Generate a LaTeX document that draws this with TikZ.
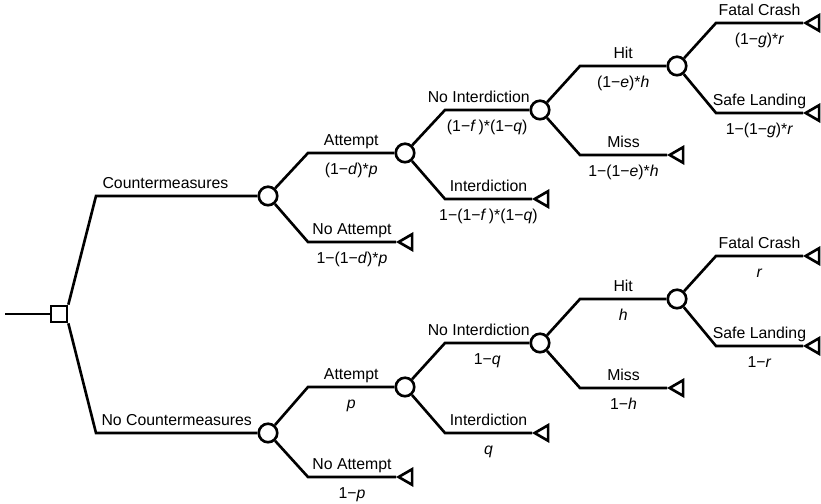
\documentclass[tikz,border=0pt]{standalone}
\usepackage{fontspec}
\setmainfont{Liberation Sans}
\usetikzlibrary{shapes.geometric}

\tikzset{
  decision/.style={shape=rectangle,draw=black,minimum size=0.32cm,inner sep=0pt},
  chance/.style={shape=circle,draw=black,minimum size=0.37cm,inner sep=0pt},
  payoff/.style={regular polygon,regular polygon sides=3,shape border rotate=90,draw=black,minimum size=0.36cm,inner sep=0pt,anchor=corner 1},
  branchlabel/.style={above=3.5pt,inner sep=0pt,text depth=0pt},
  problabel/.style={below=5pt,inner sep=0pt,text height=6.5pt,text depth=0pt},
}

\begin{document}
\begin{tikzpicture}[line width=1.5pt,font=\fontsize{9}{11}\selectfont]
\useasboundingbox (0,0) rectangle (16.42,10.08);
% decision node
\coordinate (in) at (0.10,3.80);
\node[decision] (D) at (1.18,3.80) {};
\coordinate (jc) at (1.92,6.16);
\coordinate (jnc) at (1.92,1.42);
\node[chance] (C1) at (5.36,6.16) {};
\node[chance] (C2) at (5.36,1.42) {};
% countermeasures
\coordinate (ja1) at (6.16,7.02);
\node[chance] (A1) at (8.10,7.02) {};
\coordinate (jn1) at (6.16,5.24);
\node[payoff] (t1) at (7.92,5.24) {};
\coordinate (jni1) at (8.90,7.88);
\node[chance] (NI1) at (10.80,7.88) {};
\coordinate (ji1) at (8.90,6.10);
\node[payoff] (t2) at (10.64,6.10) {};
\coordinate (jh1) at (11.60,8.76);
\node[chance] (H1) at (13.54,8.76) {};
\coordinate (jm1) at (11.60,6.98);
\node[payoff] (t3) at (13.34,6.98) {};
\coordinate (jf1) at (14.32,9.62);
\node[payoff] (t4) at (16.06,9.62) {};
\coordinate (js1) at (14.32,7.82);
\node[payoff] (t5) at (16.06,7.82) {};
% no countermeasures
\coordinate (ja2) at (6.16,2.34);
\node[chance] (A2) at (8.10,2.34) {};
\coordinate (jn2) at (6.16,0.54);
\node[payoff] (t6) at (7.92,0.54) {};
\coordinate (jni2) at (8.90,3.22);
\node[chance] (NI2) at (10.80,3.22) {};
\coordinate (ji2) at (8.90,1.42);
\node[payoff] (t7) at (10.64,1.42) {};
\coordinate (jh2) at (11.60,4.10);
\node[chance] (H2) at (13.54,4.10) {};
\coordinate (jm2) at (11.60,2.32);
\node[payoff] (t8) at (13.34,2.32) {};
\coordinate (jf2) at (14.32,4.96);
\node[payoff] (t9) at (16.06,4.96) {};
\coordinate (js2) at (14.32,3.16);
\node[payoff] (t10) at (16.06,3.16) {};

\draw (in) -- (D);
\draw (D.north east) -- (jc) -- node[branchlabel,pos=0.43] {Countermeasures} (C1);
\draw (D.south east) -- (jnc) -- node[branchlabel] {No Countermeasures} (C2);

\draw (C1) -- (ja1) -- node[branchlabel] {Attempt} node[problabel] {(1−\textit{d})*\textit{p}} (A1);
\draw (C1) -- (jn1) -- node[branchlabel] {No Attempt} node[problabel] {1−(1−\textit{d})*\textit{p}} (t1.corner 1);
\draw (A1) -- (jni1) -- node[branchlabel,pos=0.4] {No Interdiction} node[problabel] {(1−\textit{f}\,)*(1−\textit{q})} (NI1);
\draw (A1) -- (ji1) -- node[branchlabel] {Interdiction} node[problabel] {1−(1−\textit{f}\,)*(1−\textit{q})} (t2.corner 1);
\draw (NI1) -- (jh1) -- node[branchlabel] {Hit} node[problabel] {(1−\textit{e})*\textit{h}} (H1);
\draw (NI1) -- (jm1) -- node[branchlabel] {Miss} node[problabel] {1−(1−\textit{e})*\textit{h}} (t3.corner 1);
\draw (H1) -- (jf1) -- node[branchlabel] {Fatal Crash} node[problabel] {(1−\textit{g})*\textit{r}} (t4.corner 1);
\draw (H1) -- (js1) -- node[branchlabel] {Safe Landing} node[problabel] {1−(1−\textit{g})*\textit{r}} (t5.corner 1);

\draw (C2) -- (ja2) -- node[branchlabel] {Attempt} node[problabel] {\textit{p}} (A2);
\draw (C2) -- (jn2) -- node[branchlabel] {No Attempt} node[problabel] {1−\textit{p}} (t6.corner 1);
\draw (A2) -- (jni2) -- node[branchlabel,pos=0.4] {No Interdiction} node[problabel] {1−\textit{q}} (NI2);
\draw (A2) -- (ji2) -- node[branchlabel] {Interdiction} node[problabel] {\textit{q}} (t7.corner 1);
\draw (NI2) -- (jh2) -- node[branchlabel] {Hit} node[problabel] {\textit{h}} (H2);
\draw (NI2) -- (jm2) -- node[branchlabel] {Miss} node[problabel] {1−\textit{h}} (t8.corner 1);
\draw (H2) -- (jf2) -- node[branchlabel] {Fatal Crash} node[problabel] {\textit{r}} (t9.corner 1);
\draw (H2) -- (js2) -- node[branchlabel] {Safe Landing} node[problabel] {1−\textit{r}} (t10.corner 1);
\end{tikzpicture}
\end{document}
